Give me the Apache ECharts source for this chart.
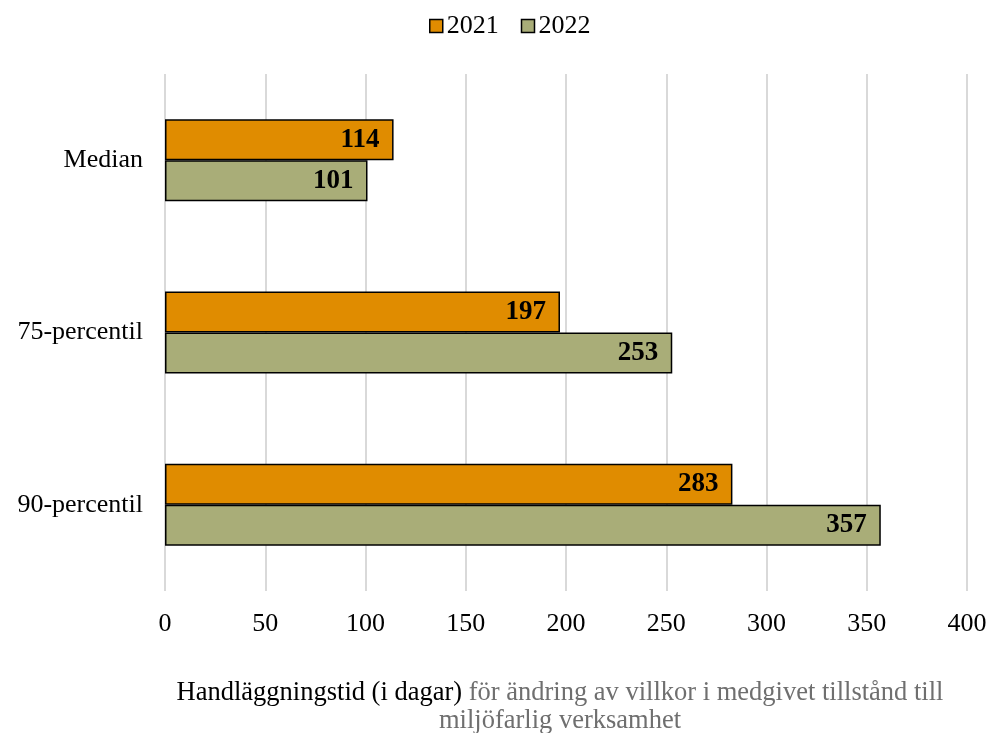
<!DOCTYPE html>
<html>
<head>
<meta charset="utf-8">
<script src="https://cdn.jsdelivr.net/npm/echarts@6/dist/echarts.min.js"></script>
<style>
  html, body { margin: 0; padding: 0; background: #fff; }
  #chart { width: 990px; height: 733px; }
</style>
</head>
<body>
<div id="chart"></div>
<script>
// data
const categories = ['Median', '75-percentil', '90-percentil'];
const years = ['2021', '2022'];
const values2021 = [114, 197, 283];
const values2022 = [101, 253, 357];
const xTicks = { min: 0, max: 400, interval: 50 };

const serif = '"Liberation Serif", "Times New Roman", serif';
const colors = ['#E08C00', '#A9AD78'];

const chart = echarts.init(document.getElementById('chart'));

const makeSeries = (name, data, color) => ({
    name,
    type: 'bar',
    data,
    barWidth: 41,
    barGap: '0%',
    itemStyle: { color, borderColor: '#000', borderWidth: 1.5 },
    label: {
        show: true,
        position: 'insideRight',
        distance: 14,
        color: '#000',
        fontFamily: serif,
        fontWeight: 'bold',
        fontSize: 27
    }
});

chart.setOption({
    animation: false,
    textStyle: { fontFamily: serif },
    legend: {
        top: 8,
        left: 424,
        icon: 'rect',
        itemWidth: 13,
        itemHeight: 13,
        itemGap: 22,
        textStyle: { fontFamily: serif, fontSize: 26, color: '#000', padding: [0, 0, 0, -1] },
        itemStyle: { borderColor: '#000', borderWidth: 1.5 },
        data: years
    },
    title: {
        left: 555,
        textAlign: 'center',
        top: 674,
        textStyle: {
            fontFamily: serif,
            fontSize: 26.5,
            fontWeight: 'normal',
            lineHeight: 28,
            rich: {
                a: { color: '#000', fontFamily: serif, fontSize: 26.5, lineHeight: 28 },
                b: { color: '#6f6f6f', fontFamily: serif, fontSize: 26.5, lineHeight: 28 }
            }
        },
        text: '{a|Handläggningstid (i dagar)}{b| för ändring av villkor i medgivet tillstånd till}\n{b|miljöfarlig verksamhet}'
    },
    grid: { left: 165, right: 23, top: 74, bottom: 142, containLabel: false },
    xAxis: {
        type: 'value',
        min: xTicks.min,
        max: xTicks.max,
        interval: xTicks.interval,
        axisLine: { show: false },
        axisTick: { show: false },
        axisLabel: { fontFamily: serif, fontSize: 26, color: '#000', margin: 20 },
        splitLine: { lineStyle: { color: '#d9d9d9', width: 2 } }
    },
    yAxis: {
        type: 'category',
        data: categories,
        inverse: true,
        axisLine: { show: false },
        axisTick: { show: false },
        axisLabel: { fontFamily: serif, fontSize: 26, color: '#000', margin: 22 }
    },
    series: [
        makeSeries(years[0], values2021, colors[0]),
        makeSeries(years[1], values2022, colors[1])
    ]
});
</script>
</body>
</html>
